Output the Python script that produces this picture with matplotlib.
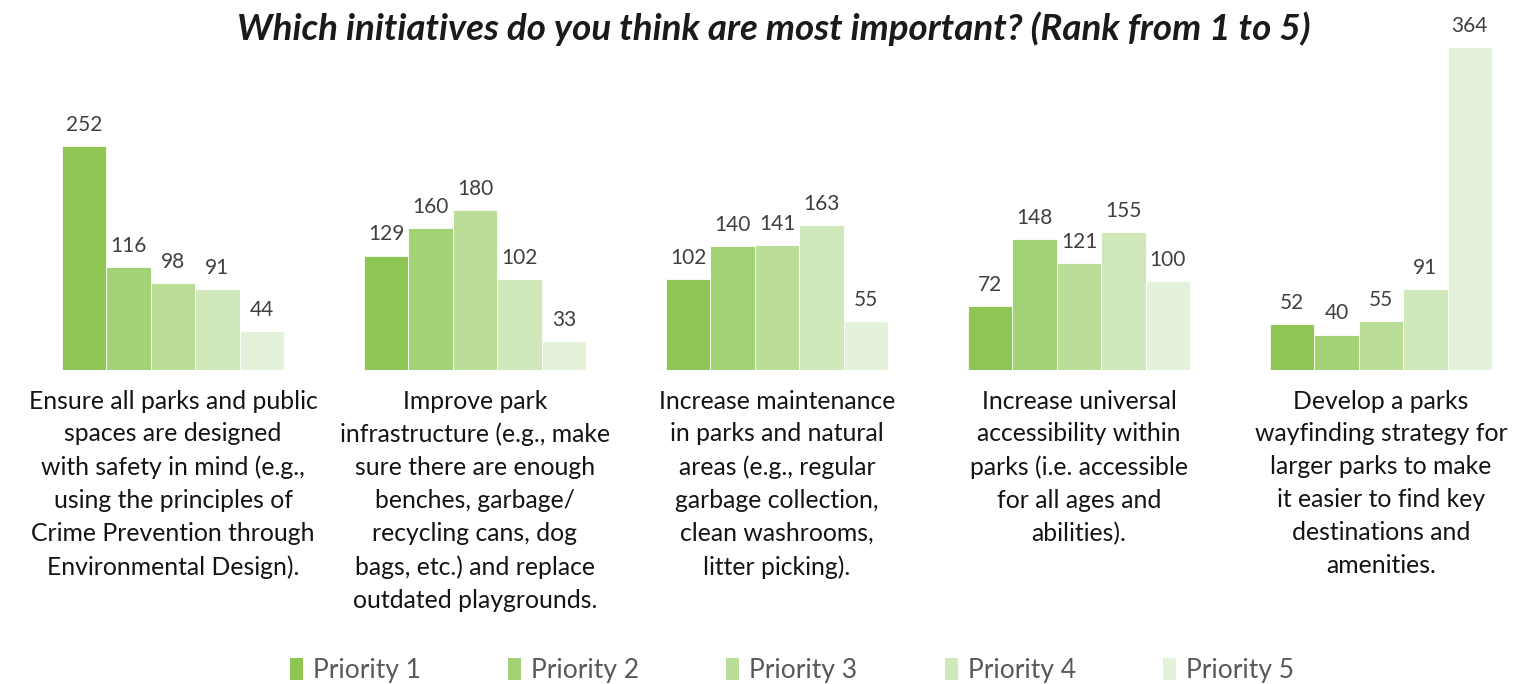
import numpy as np
import matplotlib.pyplot as plt
from matplotlib.patches import Patch

categories = [
    "Ensure all parks and public\nspaces are designed\nwith safety in mind (e.g.,\nusing the principles of\nCrime Prevention through\nEnvironmental Design).",
    "Improve park\ninfrastructure (e.g., make\nsure there are enough\nbenches, garbage/\nrecycling cans, dog\nbags, etc.) and replace\noutdated playgrounds.",
    "Increase maintenance\nin parks and natural\nareas (e.g., regular\ngarbage collection,\nclean washrooms,\nlitter picking).",
    "Increase universal\naccessibility within\nparks (i.e. accessible\nfor all ages and\nabilities).",
    "Develop a parks\nwayfinding strategy for\nlarger parks to make\nit easier to find key\ndestinations and\namenities.",
]
series_names = ["Priority 1", "Priority 2", "Priority 3", "Priority 4", "Priority 5"]
priority_1 = [252, 129, 102, 72, 52]
priority_2 = [116, 160, 140, 148, 40]
priority_3 = [98, 180, 141, 121, 55]
priority_4 = [91, 102, 163, 155, 91]
priority_5 = [44, 33, 55, 100, 364]
colors = ["#8dc653", "#a3d175", "#badd97", "#d1e8ba", "#e5f2da"]

plt.rcParams['font.family'] = ['Lato', 'DejaVu Sans']

fig = plt.figure(figsize=(15.2, 6.84), dpi=100)
ax = fig.add_axes([0, 1 - 370 / 684, 1, 370 / 684])

x = np.arange(len(categories))
w = 0.147
all_series = [priority_1, priority_2, priority_3, priority_4, priority_5]
for i, vals in enumerate(all_series):
    pos = x + (i - 2) * w
    bars = ax.bar(pos, vals, width=w, color=colors[i], edgecolor='white', linewidth=0.6)
    for b, v in zip(bars, vals):
        ax.annotate(str(v), (b.get_x() + b.get_width() / 2, v), xytext=(0, 8),
                    textcoords='offset points', ha='center', va='bottom',
                    fontsize=15, color='#404040')

ax.set_xlim(-173 / 302, (1520 - 173) / 302)
ax.set_ylim(0, 417)
ax.axis('off')

for xi, lab in zip(x, categories):
    ax.text(xi, -22, lab, ha='center', va='top', fontsize=17.8, color='#141414',
            linespacing=1.52, transform=ax.transData)

fig.text(0.509, 0.958, "Which initiatives do you think are most important? (Rank from 1 to 5)",
         ha='center', va='center', fontsize=26.5, fontweight='bold', style='italic', color='#1a1a1a')

handles = [Patch(facecolor=c, edgecolor='none') for c in colors]
fig.legend(handles, series_names, loc='center', bbox_to_anchor=(0.521, 0.02), ncol=5,
           frameon=False, fontsize=19, labelcolor='#595959', handlelength=0.5,
           handleheight=0.9, handletextpad=0.38, columnspacing=3.3)

fig.savefig('out.png', dpi=100)
